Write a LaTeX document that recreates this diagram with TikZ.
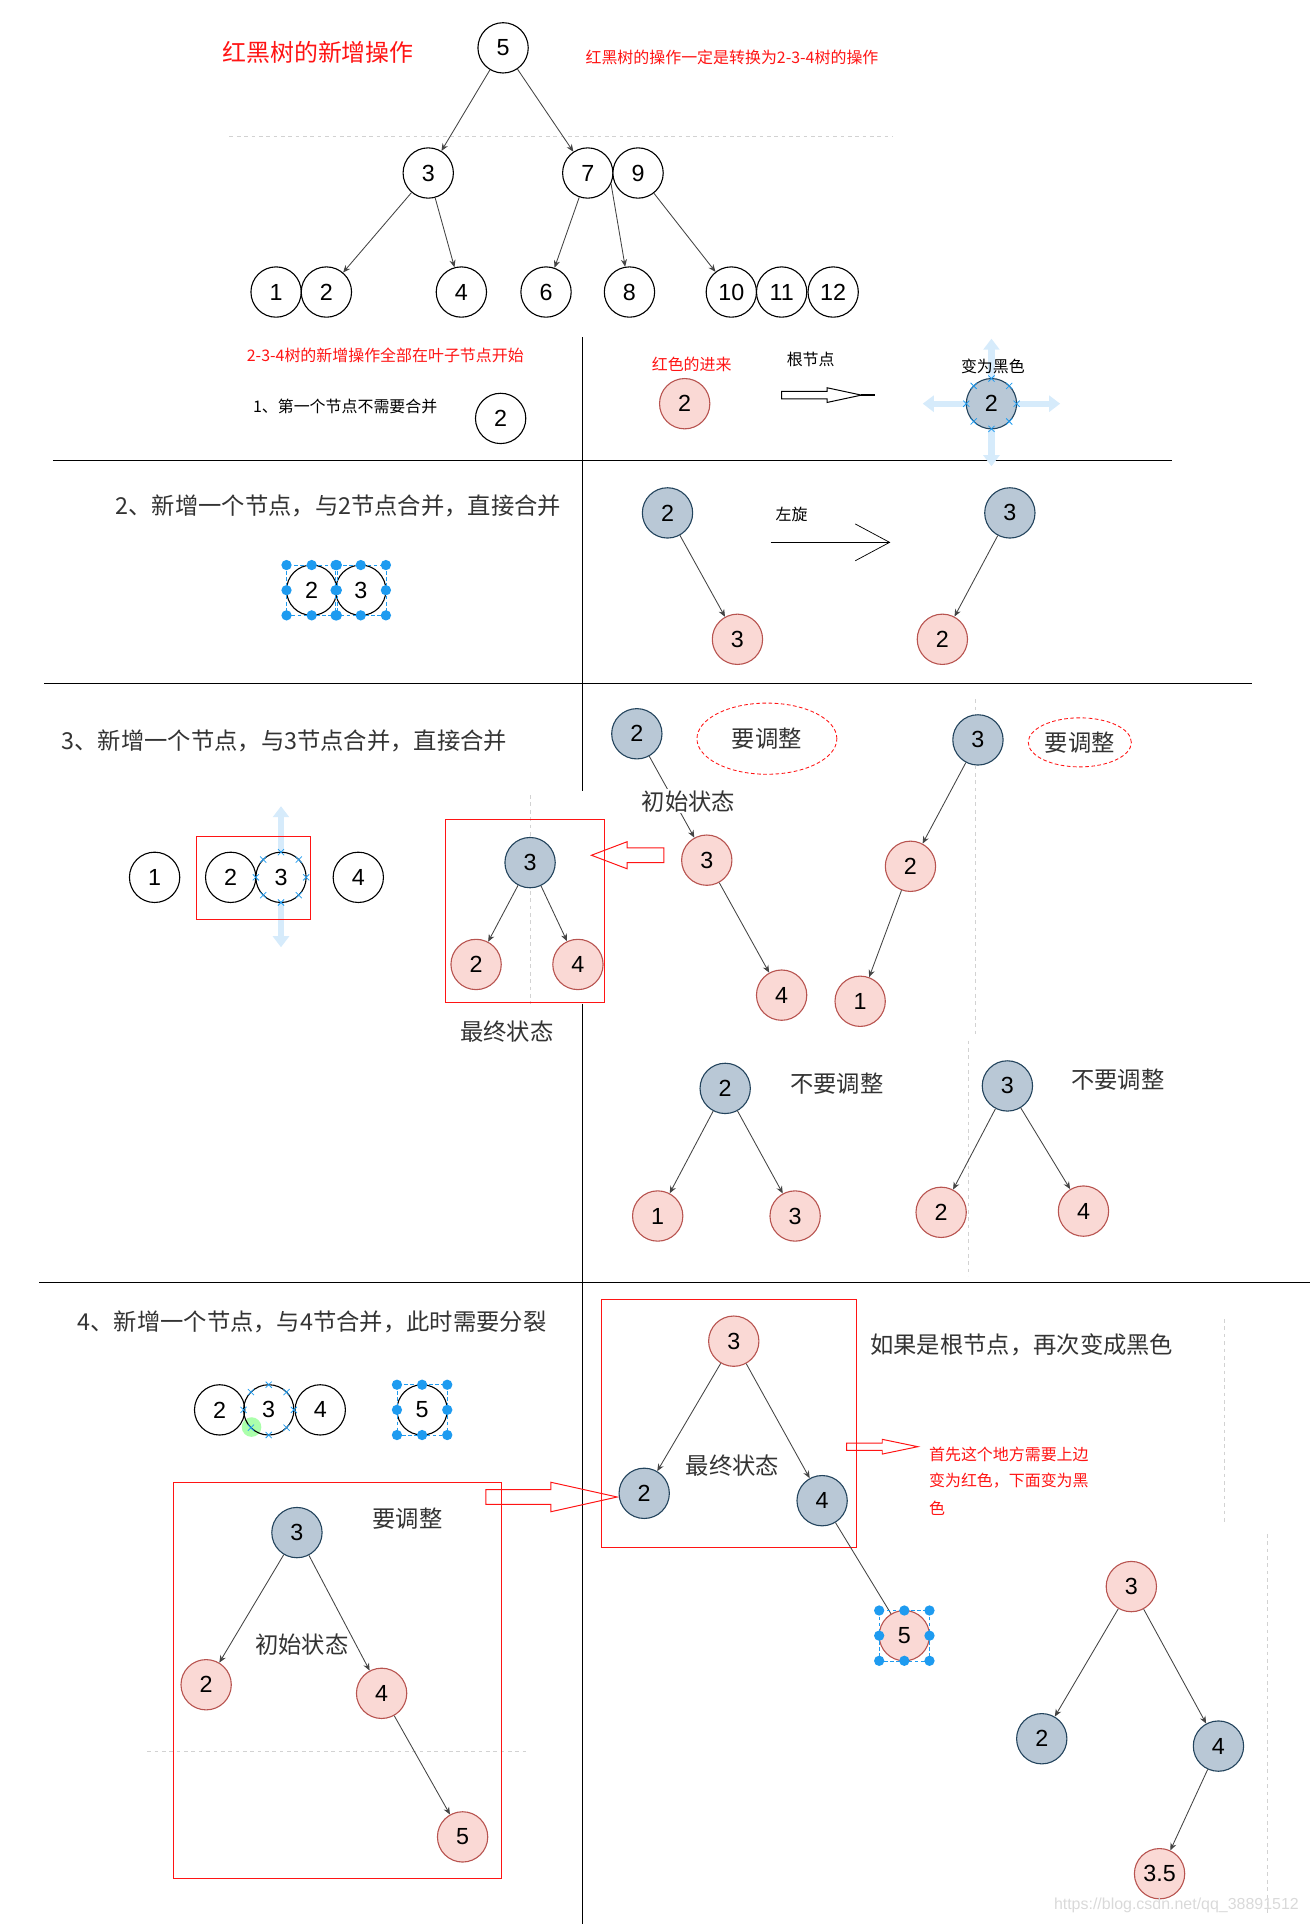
\documentclass[tikz,border=0pt]{standalone}
\usepackage{fontspec}
\setmainfont{Liberation Sans}
\newfontfamily\cjk{Noto Sans CJK SC}
\usetikzlibrary{arrows.meta, shapes.geometric, calc}
\definecolor{cblue}{HTML}{B9C8D6}
\definecolor{cblueline}{HTML}{23445D}
\definecolor{cpink}{HTML}{FAD9D5}
\definecolor{cpinkline}{HTML}{B85450}
\definecolor{cred}{HTML}{FF1414}
\definecolor{ctext}{HTML}{333333}
\definecolor{cedge}{HTML}{444444}
\definecolor{chandle}{HTML}{1E9BF0}
\definecolor{chover}{HTML}{D6EBFB}
\tikzset{
  every picture/.style={x=1pt, y=-1pt},
  wnode/.style={circle, draw=black, fill=white, line width=0.9pt, minimum size=41pt, inner sep=0pt, font=\fontsize{19}{21}\selectfont},
  bnode/.style={wnode, draw=cblueline, fill=cblue},
  rnode/.style={wnode, draw=cpinkline, fill=cpink},
  link/.style={-{Stealth[length=6pt, width=5pt]}, draw=cedge, line width=0.7pt},
  big/.style={font=\cjk\fontsize{19}{22}\selectfont, text=ctext, inner sep=1pt},
  small/.style={font=\cjk\fontsize{13}{15}\selectfont, text=black, inner sep=1pt},
  redbox/.style={draw=cred, line width=0.8pt},
  sep/.style={draw=black, line width=1pt},
  guide/.style={draw=gray!35, dashed, line width=0.6pt},
  hover/.style={draw=chover, line width=5pt, -{Triangle[length=9pt, width=13pt]}},
  selline/.style={draw=chandle, densely dashed, line width=0.5pt},
  handle/.style={fill=chandle},
  adjust/.style={big, ellipse, draw=cred, dash pattern=on 3pt off 2pt, line width=0.7pt},
}
% selection handles round a node
\newcommand{\selbox}[1]{%
  \draw[selline] ($(#1)+(-20.5,-20.5)$) rectangle ($(#1)+(20.5,20.5)$);
  \foreach \dx/\dy in {-1/-1,0/-1,1/-1,-1/0,1/0,-1/1,0/1,1/1}
    \fill[handle] ($(#1)+(20.5*\dx,20.5*\dy)$) circle (4.2pt);
}
% connection crosses on a node
\newcommand{\pincross}[1]{%
  \foreach \a in {0,45,...,315}
    \draw[chandle, line width=0.6pt] ($(#1)+(\a:20.5)$) +(-2.5,-2.5) -- +(2.5,2.5) +(-2.5,2.5) -- +(2.5,-2.5);
}

\begin{document}
\begin{tikzpicture}
\useasboundingbox (0,0) rectangle (1068,1568);

% faint guide lines
\draw[guide] (187,111) -- (728,111);
\draw[guide] (432,648) -- (432,818);
\draw[guide] (795,570) -- (795,845);
\draw[guide] (789,848) -- (789,1040);
\draw[guide] (120,1427) -- (430,1427);
\draw[guide] (998,1075) -- (998,1240);
\draw[guide] (1033,1250) -- (1033,1560);

% separators
\draw[sep] (43,375) -- (955,375);
\draw[sep] (36,557) -- (1020,557);
\draw[sep] (32,1045) -- (1068,1045);
\draw[sep] (475,275) -- (475,645);
\draw[sep] (475,818) -- (475,1568);

% ---- top: 2-3-4 tree
\node[big, text=cred, font=\cjk\fontsize{19.5}{22}\selectfont, anchor=west] (title) at (180,43) {红黑树的新增操作};
\node[small, text=cred, anchor=west] (hint) at (476,47) {红黑树的操作一定是转换为2-3-4树的操作};
\node[wnode] (t5) at (410,39) {5};
\node[wnode] (t3) at (349,141) {3};
\node[wnode] (t7) at (479,141) {7};
\node[wnode] (t9) at (520,141) {9};
\node[wnode] (t1) at (225,238) {1};
\node[wnode] (t2) at (266,238) {2};
\node[wnode] (t4) at (376,238) {4};
\node[wnode] (t6) at (445,238) {6};
\node[wnode] (t8) at (513,238) {8};
\node[wnode] (t10) at (596,238) {10};
\node[wnode] (t11) at (637,238) {11};
\node[wnode] (t12) at (679,238) {12};
\draw[link] (t5) -- (t3);
\draw[link] (t5) -- (t7);
\draw[link] (t3) -- (t2);
\draw[link] (t3) -- (t4);
\draw[link] (t7) -- (t6);
\draw[link] (t7.-25) -- (t8);
\draw[link] (t9) -- (t10);

% ---- step 1
\node[small, text=cred, anchor=west] (leafnote) at (200,290) {2-3-4树的新增操作全部在叶子节点开始};
\node[small, anchor=west] (step1) at (205,331) {1、第一个节点不需要合并};
\node[wnode] (a2w) at (408,341) {2};
\node[small, text=cred, anchor=west] (redin) at (530,297) {红色的进来};
\node[rnode] (a2r) at (558,329) {2};
\node[small, anchor=west] (rootnote) at (640,293) {根节点};
\draw[line width=0.8pt] (637,319) -- (674,319) -- (674,316) -- (702,322) -- (674,328) -- (674,325) -- (637,325) -- cycle;
\draw[line width=1.6pt] (702,322) -- (713,322);
\draw[hover] (808,310) -- (808,276);
\draw[hover] (808,348) -- (808,380);
\draw[hover] (789,329) -- (752,329);
\draw[hover] (827,329) -- (864,329);
\node[small, anchor=west] (toblack) at (782,299) {变为黑色};
\node[bnode] (a2b) at (808,329) {2};
\pincross{a2b}

% ---- step 2
\node[big, anchor=west] (step2) at (93,412) {2、新增一个节点，与2节点合并，直接合并};
\node[wnode, fill=none] (m2) at (254,481) {2};
\node[wnode, fill=none] (m3) at (294,481) {3};
\selbox{m2}
\selbox{m3}
\node[bnode] (b2) at (544,418) {2};
\node[rnode] (b3) at (601,521) {3};
\draw[link] (b2) -- (b3);
\node[small, anchor=west] (rotl) at (631,419) {左旋};
\coordinate (rotA) at (628,442);
\coordinate (rotB) at (725,442);
\draw[line width=0.8pt] (rotA) -- (rotB);
\draw[line width=0.6pt] (697,427) -- (rotB) -- (697,457);
\node[bnode] (c3) at (823,418) {3};
\node[rnode] (c2) at (768,521) {2};
\draw[link] (c3) -- (c2);

% ---- step 3
\node[big, anchor=west] (step3) at (49,604) {3、新增一个节点，与3节点合并，直接合并};
\draw[hover] (229,694) -- (229,657);
\draw[hover] (229,736) -- (229,772);
\node[wnode] (n1) at (126,715) {1};
\node[wnode, fill=none] (n2) at (188,715) {2};
\node[wnode, fill=none] (n3) at (229,715) {3};
\node[wnode] (n4) at (292,715) {4};
\pincross{n3}
\draw[redbox] (160,682) rectangle (253,749);
% final state
\draw[redbox] (363,668) rectangle (493,817);
\node[bnode] (f3) at (432,703) {3};
\node[rnode] (f2) at (388,786) {2};
\node[rnode] (f4) at (471,786) {4};
\draw[link] (f3) -- (f2);
\draw[link] (f3) -- (f4);
\node[big] (fin1) at (413,841) {最终状态};
\draw[redbox] (541,691) -- (511,691) -- (511,686) -- (482,697) -- (511,708) -- (511,703) -- (541,703) -- cycle;
% needs adjusting
\node[bnode] (i2) at (519,598) {2};
\node[rnode] (i3) at (576,701) {3};
\node[rnode] (i4) at (637,811) {4};
\draw[link] (i2) -- (i3);
\draw[link] (i3) -- (i4);
\node[big, fill=white] (init1) at (561,653) {初始状态};
\node[adjust, minimum width=114pt, minimum height=58pt] (adj1) at (625,602) {要调整};
\node[bnode] (j3) at (797,603) {3};
\node[rnode] (j2) at (742,706) {2};
\node[rnode] (j1) at (701,816) {1};
\draw[link] (j3) -- (j2);
\draw[link] (j2) -- (j1);
\node[adjust, minimum width=84pt, minimum height=40pt, inner sep=0pt] (adj2) at (880,605) {要调整};
% no adjusting
\node[bnode] (k2) at (591,887) {2};
\node[rnode] (k1) at (536,991) {1};
\node[rnode] (k3) at (648,991) {3};
\draw[link] (k2) -- (k1);
\draw[link] (k2) -- (k3);
\node[big] (ok1) at (682,883) {不要调整};
\node[bnode] (l3) at (821,885) {3};
\node[rnode] (l2) at (767,988) {2};
\node[rnode] (l4) at (883,987) {4};
\draw[link] (l3) -- (l2);
\draw[link] (l3) -- (l4);
\node[big] (ok2) at (911,880) {不要调整};

% ---- step 4
\node[big, anchor=west] (step4) at (62,1077) {4、新增一个节点，与4节合并，此时需要分裂};
\fill[green!55, opacity=0.6] (205,1163) circle (8pt);
\node[wnode, fill=none] (p2) at (179,1149) {2};
\node[wnode, fill=none] (p3) at (219,1149) {3};
\node[wnode, fill=none] (p4) at (261,1149) {4};
\pincross{p3}
\node[wnode] (p5) at (344,1149) {5};
\selbox{p5}
% initial state
\draw[redbox] (141,1208) rectangle (409,1531);
\node[bnode] (q3) at (242,1249) {3};
\node[rnode] (q2) at (168,1373) {2};
\node[rnode] (q4) at (311,1380) {4};
\node[rnode] (q5) at (377,1497) {5};
\draw[link] (q3) -- (q2);
\draw[link] (q3) -- (q4);
\draw[link] (q4) -- (q5);
\node[big] (adj3) at (332,1238) {要调整};
\node[big] (init2) at (246,1340) {初始状态};
\draw[redbox] (396,1214) -- (449,1214) -- (449,1208) -- (503,1220) -- (449,1232) -- (449,1226) -- (396,1226) -- cycle;
% final state
\draw[redbox] (490,1059) rectangle (698,1261);
\node[rnode] (s3) at (598,1093) {3};
\node[bnode] (s2) at (525,1217) {2};
\node[bnode] (s4) at (670,1223) {4};
\node[rnode] (s5) at (737,1333) {5};
\draw[link] (s3) -- (s2);
\draw[link] (s3) -- (s4);
\draw[draw=cedge, line width=0.7pt] (s4) -- (s5);
\selbox{s5}
\node[big] (fin2) at (597,1194) {最终状态};
\node[big, anchor=west] (rootblack) at (708,1096) {如果是根节点，再次变成黑色};
\draw[redbox] (690,1176) -- (719,1176) -- (719,1173) -- (748,1179) -- (719,1185) -- (719,1182) -- (690,1182) -- cycle;
\node[small, text=cred, anchor=west] (why1) at (756,1185) {首先这个地方需要上边};
\node[small, text=cred, anchor=west] (why2) at (756,1207) {变为红色，下面变为黑};
\node[small, text=cred, anchor=west] (why3) at (756,1229) {色};
% after insert 3.5
\node[rnode] (u3) at (922,1293) {3};
\node[bnode] (u2) at (849,1417) {2};
\node[bnode] (u4) at (993,1423) {4};
\node[rnode] (u35) at (945,1527) {3.5};
\draw[link] (u3) -- (u2);
\draw[link] (u3) -- (u4);
\draw[link] (u4) -- (u35);

\node[font=\fontsize{13}{15}\selectfont, text=gray!30, anchor=east] (mark) at (1062,1553) {https://blog.csdn.net/qq\_38891512};
\end{tikzpicture}
\end{document}
